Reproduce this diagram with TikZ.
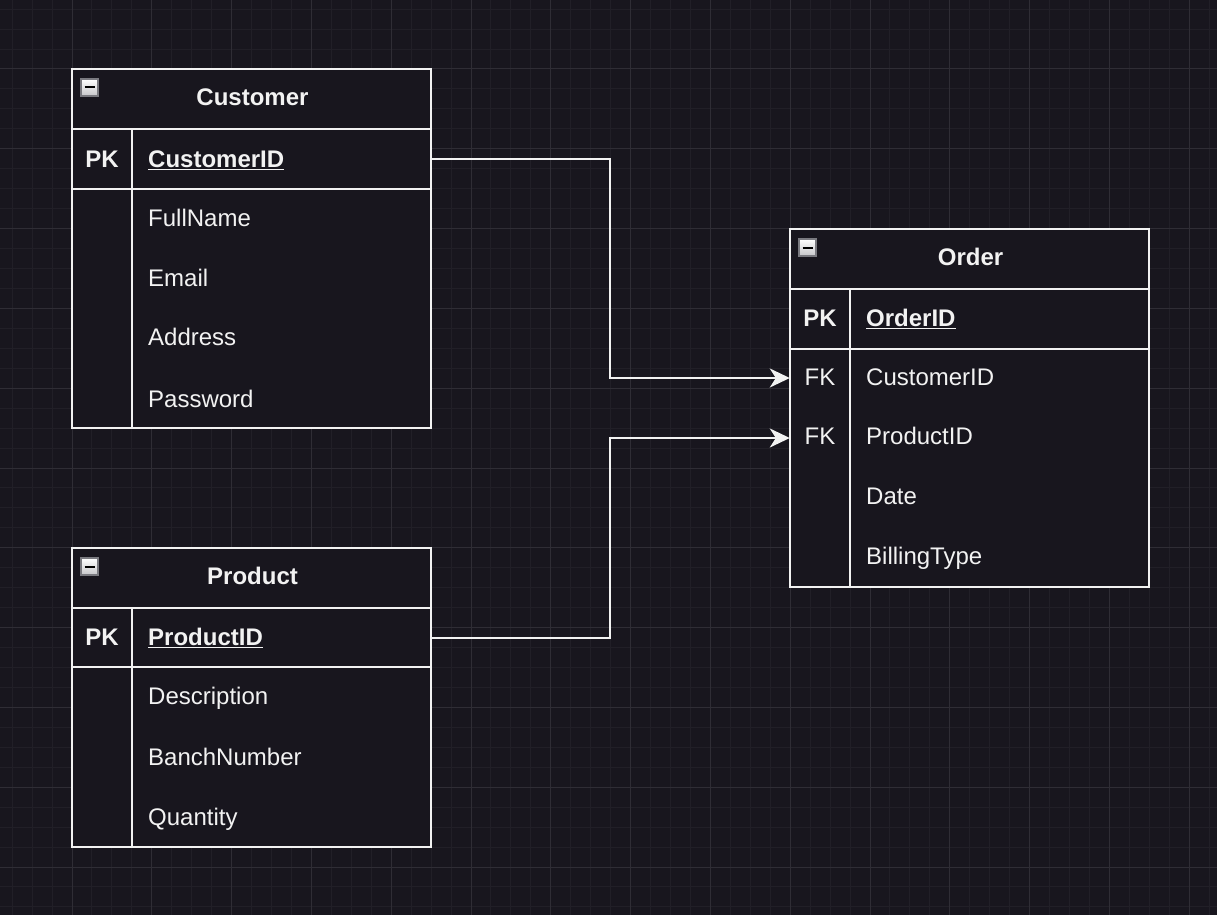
\documentclass[tikz,border=0pt]{standalone}
\usepackage{fontspec}
\setmainfont{Liberation Sans}
\usetikzlibrary{arrows.meta}
\definecolor{bg}{HTML}{18161E}
\definecolor{gridminor}{HTML}{211F27}
\definecolor{gridmajor}{HTML}{2F2D35}
\definecolor{fg}{HTML}{F2F2F2}
\definecolor{iconfill}{HTML}{D8D8DC}
\definecolor{iconedge}{HTML}{7A7A80}
\tikzset{
  tbl/.style={draw=fg, line width=2pt, fill=bg, minimum width=359pt, inner sep=0pt},
  sep/.style={draw=fg, line width=2pt},
  rowbox/.style={minimum width=359pt, minimum height=60pt, inner sep=0pt},
  txt/.style={text=fg, font=\fontsize{24}{28}\selectfont, inner sep=0pt, anchor=base west},
  keytxt/.style={text=fg, font=\fontsize{24}{28}\selectfont, inner sep=0pt, anchor=base},
  hdr/.style={text=fg, font=\bfseries\fontsize{24}{28}\selectfont, inner sep=0pt, anchor=base},
  conn/.style={draw=fg, line width=2pt, -{Stealth[length=20pt, width=19pt, inset=6pt]}},
  icon/.style={draw=iconedge, line width=1.5pt, top color=white, bottom color=iconfill!80!gray, minimum size=17pt, inner sep=0pt},
}
\newcommand{\ulbold}[1]{\underline{\textbf{#1}}}
\begin{document}
\begin{tikzpicture}[x=1pt,y=-1pt]
\fill[bg] (0,0) rectangle (1217,915);
\useasboundingbox (0,0) rectangle (1217,915);
% grid
\foreach \i in {-3,...,57} \draw[gridminor, line width=1pt] ({72+19.95*\i},0) -- ({72+19.95*\i},915);
\foreach \i in {-3,...,42} \draw[gridminor, line width=1pt] (0,{69+19.95*\i}) -- (1217,{69+19.95*\i});
\foreach \i in {0,4,...,56} \draw[gridmajor, line width=1pt] ({72+19.95*\i},0) -- ({72+19.95*\i},915);
\foreach \i in {0,4,...,40} \draw[gridmajor, line width=1pt] (0,{69+19.95*\i}) -- (1217,{69+19.95*\i});

% ===== Customer =====
\node[tbl, minimum height=359pt] (cust) at (251.5,248.5) {};
\draw[sep] (72,129) -- (431,129);
\draw[sep] (72,189) -- (431,189);
\draw[sep] (132,129) -- (132,428);
\node[icon] (custicon) at (89.5,87.5) {};
\draw[black, line width=2pt] ([xshift=-5pt]custicon.center) -- ([xshift=5pt]custicon.center);
\node[hdr] (custh) at (252.5,105.7) {Customer};
\node[rowbox] (custpk) at (251.5,159) {};
\node[keytxt, font=\bfseries\fontsize{24}{28}\selectfont] (custpkk) at (102,167.3) {PK};
\node[txt] (custpkn) at (148,167.3) {\ulbold{CustomerID}};
\node[txt] (custr1) at (148,226.7) {FullName};
\node[txt] (custr2) at (148,286) {Email};
\node[txt] (custr3) at (148,345.7) {Address};
\node[txt] (custr4) at (148,407.3) {Password};

% ===== Order =====
\node[tbl, minimum height=358pt] (ord) at (969.5,408) {};
\draw[sep] (790,289) -- (1149,289);
\draw[sep] (790,349) -- (1149,349);
\draw[sep] (850,289) -- (850,587);
\node[icon] (ordicon) at (807.5,247.5) {};
\draw[black, line width=2pt] ([xshift=-5pt]ordicon.center) -- ([xshift=5pt]ordicon.center);
\node[hdr] (ordh) at (970.5,265.7) {Order};
\node[keytxt, font=\bfseries\fontsize{24}{28}\selectfont] (ordpkk) at (820,326.3) {PK};
\node[txt] (ordpkn) at (866,326.3) {\ulbold{OrderID}};
\node[rowbox] (ordfk1) at (969.5,378) {};
\node[rowbox] (ordfk2) at (969.5,438) {};
\node[keytxt] (ordfk1k) at (820,385.7) {FK};
\node[keytxt] (ordfk2k) at (820,444) {FK};
\node[txt] (ordr1) at (866,385.7) {CustomerID};
\node[txt] (ordr2) at (866,444) {ProductID};
\node[txt] (ordr3) at (866,504.3) {Date};
\node[txt] (ordr4) at (866,564.3) {BillingType};

% ===== Product =====
\node[tbl, minimum height=299pt] (prod) at (251.5,697.5) {};
\draw[sep] (72,608) -- (431,608);
\draw[sep] (72,667) -- (431,667);
\draw[sep] (132,608) -- (132,847);
\node[icon] (prodicon) at (89.5,566.5) {};
\draw[black, line width=2pt] ([xshift=-5pt]prodicon.center) -- ([xshift=5pt]prodicon.center);
\node[hdr] (prodh) at (252.5,584.7) {Product};
\node[rowbox] (prodpk) at (251.5,637.5) {};
\node[keytxt, font=\bfseries\fontsize{24}{28}\selectfont] (prodpkk) at (102,645.8) {PK};
\node[txt] (prodpkn) at (148,645.8) {\ulbold{ProductID}};
\node[txt] (prodr1) at (148,704) {Description};
\node[txt] (prodr2) at (148,765.7) {BanchNumber};
\node[txt] (prodr3) at (148,825) {Quantity};

% ===== connectors =====
\coordinate (bend) at (610,0);
\draw[conn] (custpk.east) -| (bend |- ordfk1.west) -- (ordfk1.west);
\draw[conn] (prodpk.east) -| (bend |- ordfk2.west) -- (ordfk2.west);
\end{tikzpicture}
\end{document}
